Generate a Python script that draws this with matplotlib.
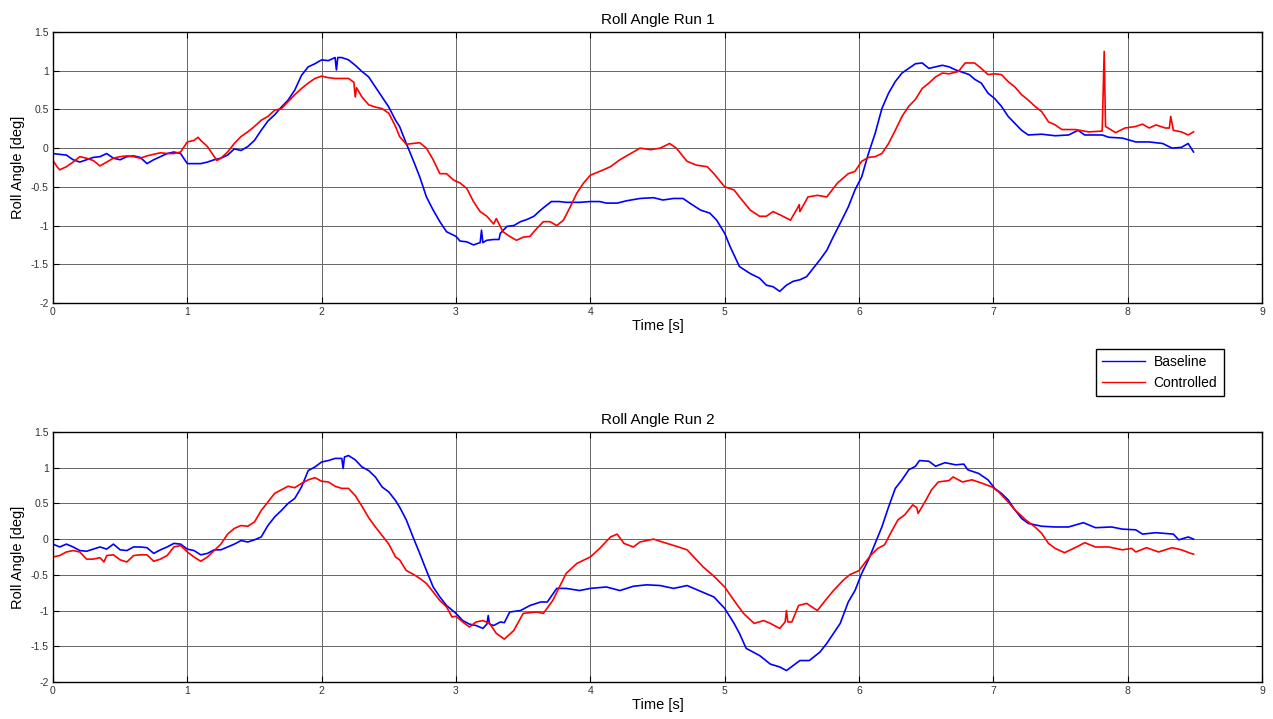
import matplotlib
matplotlib.use('Agg')
import matplotlib.pyplot as plt

plt.rcParams['font.family'] = ['Liberation Sans', 'DejaVu Sans']

################################ data ################################

titles = ['Roll Angle Run 1', 'Roll Angle Run 2']
series_names = ['Baseline', 'Controlled']
x_ticks = [0, 1, 2, 3, 4, 5, 6, 7, 8, 9]
y_ticks = [-2, -1.5, -1, -0.5, 0, 0.5, 1, 1.5]

# run 1, baseline
base1_t = [0.00, 0.05, 0.10, 0.15, 0.20, 0.25, 0.30, 0.35, 0.40, 0.45,
           0.50, 0.55, 0.60, 0.65, 0.70, 0.75, 0.80, 0.85, 0.90, 0.95,
           1.00, 1.05, 1.10, 1.15, 1.20, 1.25, 1.30, 1.35, 1.40, 1.45,
           1.50, 1.55, 1.60, 1.65, 1.70, 1.75, 1.80, 1.85, 1.90, 1.95,
           2.00, 2.05, 2.10, 2.11, 2.12, 2.15, 2.20, 2.25, 2.30, 2.35,
           2.40, 2.45, 2.50, 2.55, 2.58, 2.63, 2.68, 2.73, 2.78, 2.83,
           2.88, 2.93, 3.00, 3.03, 3.08, 3.13, 3.18, 3.19, 3.20, 3.23,
           3.28, 3.32, 3.33, 3.38, 3.43, 3.48, 3.53, 3.58, 3.63, 3.68,
           3.71, 3.77, 3.82, 3.87, 3.92, 4.00, 4.07, 4.12, 4.20, 4.27,
           4.37, 4.47, 4.54, 4.62, 4.69, 4.74, 4.82, 4.89, 4.94, 5.00,
           5.04, 5.11, 5.19, 5.26, 5.31, 5.36, 5.41, 5.46, 5.51, 5.56,
           5.61, 5.66, 5.71, 5.76, 5.81, 5.86, 5.92, 5.97, 6.02, 6.07,
           6.12, 6.17, 6.22, 6.27, 6.32, 6.37, 6.42, 6.47, 6.52, 6.57,
           6.62, 6.67, 6.72, 6.77, 6.82, 6.86, 6.91, 6.96, 7.01, 7.06,
           7.11, 7.16, 7.21, 7.26, 7.36, 7.46, 7.56, 7.63, 7.68, 7.81,
           7.86, 7.96, 8.06, 8.16, 8.26, 8.33, 8.40, 8.45, 8.49]
base1_v = [-0.07, -0.08, -0.09, -0.15, -0.18, -0.15, -0.12, -0.11, -0.07, -0.13,
           -0.15, -0.11, -0.10, -0.12, -0.20, -0.15, -0.11, -0.07, -0.05, -0.07,
           -0.20, -0.20, -0.20, -0.18, -0.15, -0.13, -0.09, -0.01, -0.03, 0.02,
           0.10, 0.23, 0.35, 0.43, 0.53, 0.62, 0.75, 0.94, 1.05, 1.09,
           1.14, 1.13, 1.17, 1.01, 1.17, 1.17, 1.14, 1.07, 0.99, 0.92,
           0.79, 0.66, 0.53, 0.36, 0.28, 0.06, -0.15, -0.37, -0.63, -0.80,
           -0.95, -1.08, -1.14, -1.20, -1.21, -1.25, -1.22, -1.06, -1.22, -1.19,
           -1.18, -1.18, -1.10, -1.01, -1.00, -0.95, -0.92, -0.88, -0.80, -0.73,
           -0.69, -0.69, -0.70, -0.70, -0.70, -0.69, -0.69, -0.71, -0.71, -0.68,
           -0.65, -0.64, -0.67, -0.65, -0.65, -0.71, -0.80, -0.84, -0.93, -1.10,
           -1.27, -1.53, -1.62, -1.68, -1.77, -1.79, -1.85, -1.77, -1.72, -1.70,
           -1.66, -1.55, -1.44, -1.32, -1.14, -0.97, -0.76, -0.54, -0.37, -0.07,
           0.19, 0.51, 0.71, 0.86, 0.97, 1.03, 1.09, 1.10, 1.03, 1.05,
           1.07, 1.05, 1.01, 0.98, 0.95, 0.89, 0.84, 0.71, 0.64, 0.54,
           0.41, 0.32, 0.23, 0.17, 0.18, 0.16, 0.17, 0.23, 0.17, 0.17,
           0.14, 0.13, 0.08, 0.08, 0.06, 0.00, 0.01, 0.06, -0.05]

# run 1, controlled
ctrl1_t = [0.00, 0.03, 0.05, 0.10, 0.15, 0.20, 0.25, 0.30, 0.35, 0.40,
           0.45, 0.50, 0.55, 0.60, 0.65, 0.70, 0.75, 0.80, 0.85, 0.90,
           0.95, 1.00, 1.05, 1.08, 1.10, 1.15, 1.20, 1.22, 1.25, 1.30,
           1.35, 1.40, 1.45, 1.50, 1.55, 1.60, 1.65, 1.70, 1.75, 1.80,
           1.85, 1.90, 1.95, 2.00, 2.05, 2.10, 2.15, 2.20, 2.24, 2.25,
           2.26, 2.30, 2.35, 2.40, 2.45, 2.50, 2.55, 2.58, 2.63, 2.68,
           2.73, 2.78, 2.83, 2.88, 2.93, 2.98, 3.03, 3.08, 3.13, 3.18,
           3.23, 3.28, 3.30, 3.35, 3.40, 3.45, 3.50, 3.55, 3.60, 3.65,
           3.70, 3.75, 3.80, 3.85, 3.90, 3.95, 4.00, 4.07, 4.15, 4.22,
           4.30, 4.37, 4.45, 4.52, 4.59, 4.64, 4.72, 4.79, 4.87, 4.92,
           5.00, 5.07, 5.11, 5.19, 5.26, 5.31, 5.36, 5.41, 5.49, 5.54,
           5.555, 5.56, 5.62, 5.69, 5.76, 5.84, 5.92, 5.97, 6.02, 6.07,
           6.12, 6.17, 6.22, 6.27, 6.32, 6.37, 6.42, 6.47, 6.52, 6.57,
           6.62, 6.67, 6.74, 6.79, 6.86, 6.91, 6.96, 7.01, 7.06, 7.11,
           7.16, 7.21, 7.26, 7.31, 7.36, 7.41, 7.46, 7.51, 7.61, 7.71,
           7.81, 7.825, 7.835, 7.91, 7.98, 8.06, 8.11, 8.16, 8.21, 8.28,
           8.31, 8.32, 8.34, 8.40, 8.45, 8.49]
ctrl1_v = [-0.16, -0.24, -0.28, -0.24, -0.18, -0.11, -0.13, -0.16, -0.23, -0.18,
           -0.13, -0.11, -0.10, -0.11, -0.13, -0.10, -0.08, -0.06, -0.07, -0.07,
           -0.05, 0.08, 0.10, 0.14, 0.10, 0.02, -0.11, -0.16, -0.13, -0.05,
           0.06, 0.15, 0.21, 0.28, 0.36, 0.41, 0.49, 0.51, 0.60, 0.69,
           0.77, 0.84, 0.90, 0.93, 0.91, 0.90, 0.90, 0.90, 0.85, 0.66,
           0.78, 0.66, 0.56, 0.53, 0.51, 0.45, 0.28, 0.15, 0.05, 0.06,
           0.07, 0.00, -0.15, -0.33, -0.33, -0.41, -0.45, -0.52, -0.69, -0.82,
           -0.88, -0.98, -0.91, -1.08, -1.14, -1.19, -1.15, -1.14, -1.04, -0.95,
           -0.95, -1.00, -0.93, -0.76, -0.58, -0.45, -0.35, -0.30, -0.24, -0.15,
           -0.07, 0.00, -0.02, 0.00, 0.06, 0.00, -0.17, -0.22, -0.24, -0.33,
           -0.50, -0.54, -0.63, -0.80, -0.88, -0.88, -0.82, -0.86, -0.93, -0.78,
           -0.73, -0.82, -0.63, -0.61, -0.63, -0.45, -0.33, -0.30, -0.17, -0.12,
           -0.11, -0.07, 0.06, 0.23, 0.41, 0.54, 0.63, 0.77, 0.84, 0.92,
           0.97, 0.96, 0.99, 1.10, 1.10, 1.03, 0.95, 0.96, 0.95, 0.86,
           0.79, 0.69, 0.62, 0.54, 0.47, 0.34, 0.30, 0.24, 0.24, 0.21,
           0.22, 1.25, 0.28, 0.20, 0.26, 0.28, 0.31, 0.26, 0.30, 0.26,
           0.26, 0.41, 0.23, 0.21, 0.17, 0.21]

# run 2, baseline
base2_t = [0.00, 0.05, 0.10, 0.15, 0.20, 0.25, 0.30, 0.35, 0.40, 0.45,
           0.50, 0.55, 0.60, 0.65, 0.70, 0.75, 0.80, 0.85, 0.90, 0.95,
           1.00, 1.05, 1.10, 1.15, 1.20, 1.25, 1.30, 1.35, 1.40, 1.45,
           1.50, 1.55, 1.60, 1.65, 1.70, 1.75, 1.80, 1.85, 1.90, 1.95,
           2.00, 2.05, 2.10, 2.15, 2.16, 2.17, 2.20, 2.25, 2.30, 2.35,
           2.40, 2.45, 2.50, 2.55, 2.58, 2.63, 2.68, 2.73, 2.78, 2.83,
           2.88, 2.93, 3.00, 3.05, 3.10, 3.15, 3.20, 3.23, 3.24, 3.25,
           3.28, 3.33, 3.36, 3.40, 3.48, 3.55, 3.63, 3.68, 3.75, 3.82,
           3.92, 4.00, 4.12, 4.22, 4.32, 4.42, 4.52, 4.62, 4.72, 4.82,
           4.92, 5.00, 5.07, 5.11, 5.16, 5.26, 5.34, 5.41, 5.46, 5.51,
           5.56, 5.63, 5.71, 5.76, 5.81, 5.86, 5.92, 5.97, 6.02, 6.07,
           6.12, 6.17, 6.22, 6.27, 6.32, 6.37, 6.42, 6.45, 6.52, 6.57,
           6.64, 6.72, 6.78, 6.81, 6.89, 6.96, 7.01, 7.06, 7.11, 7.16,
           7.21, 7.26, 7.36, 7.46, 7.56, 7.67, 7.76, 7.88, 7.96, 8.06,
           8.11, 8.21, 8.28, 8.34, 8.38, 8.45, 8.49]
base2_v = [-0.07, -0.11, -0.07, -0.11, -0.16, -0.17, -0.14, -0.11, -0.14, -0.07,
           -0.15, -0.16, -0.11, -0.11, -0.12, -0.20, -0.15, -0.11, -0.06, -0.07,
           -0.14, -0.16, -0.22, -0.20, -0.15, -0.15, -0.11, -0.07, -0.02, -0.04,
           -0.01, 0.03, 0.19, 0.31, 0.40, 0.50, 0.57, 0.73, 0.96, 1.01,
           1.08, 1.10, 1.13, 1.13, 0.99, 1.15, 1.17, 1.11, 1.01, 0.96,
           0.87, 0.73, 0.66, 0.54, 0.45, 0.27, 0.03, -0.20, -0.44, -0.67,
           -0.81, -0.93, -1.04, -1.14, -1.19, -1.21, -1.25, -1.19, -1.07, -1.19,
           -1.21, -1.16, -1.17, -1.02, -1.00, -0.93, -0.88, -0.88, -0.69, -0.69,
           -0.72, -0.69, -0.67, -0.72, -0.66, -0.64, -0.65, -0.69, -0.65, -0.73,
           -0.81, -0.97, -1.18, -1.32, -1.53, -1.63, -1.75, -1.79, -1.84, -1.77,
           -1.70, -1.70, -1.58, -1.46, -1.32, -1.18, -0.88, -0.72, -0.48, -0.29,
           -0.06, 0.17, 0.45, 0.71, 0.83, 0.97, 1.02, 1.10, 1.09, 1.02,
           1.07, 1.04, 1.05, 0.97, 0.92, 0.83, 0.71, 0.64, 0.55, 0.41,
           0.29, 0.22, 0.18, 0.17, 0.17, 0.23, 0.16, 0.17, 0.14, 0.13,
           0.07, 0.09, 0.08, 0.07, -0.01, 0.03, 0.00]

# run 2, controlled
ctrl2_t = [0.00, 0.05, 0.10, 0.15, 0.20, 0.25, 0.30, 0.35, 0.38, 0.40,
           0.45, 0.50, 0.55, 0.60, 0.65, 0.70, 0.75, 0.80, 0.85, 0.90,
           0.95, 1.00, 1.05, 1.10, 1.15, 1.20, 1.25, 1.30, 1.35, 1.40,
           1.45, 1.50, 1.55, 1.60, 1.65, 1.70, 1.75, 1.80, 1.85, 1.90,
           1.95, 2.00, 2.05, 2.10, 2.15, 2.20, 2.25, 2.30, 2.35, 2.40,
           2.45, 2.50, 2.55, 2.58, 2.63, 2.68, 2.73, 2.78, 2.83, 2.88,
           2.93, 2.97, 3.00, 3.05, 3.10, 3.15, 3.20, 3.25, 3.30, 3.36,
           3.43, 3.50, 3.55, 3.60, 3.65, 3.72, 3.77, 3.82, 3.90, 4.00,
           4.07, 4.15, 4.20, 4.25, 4.32, 4.37, 4.47, 4.57, 4.64, 4.72,
           4.79, 4.84, 4.92, 5.00, 5.07, 5.14, 5.22, 5.29, 5.34, 5.41,
           5.45, 5.46, 5.47, 5.50, 5.55, 5.61, 5.69, 5.74, 5.81, 5.88,
           5.93, 6.00, 6.04, 6.09, 6.14, 6.19, 6.24, 6.29, 6.34, 6.40,
           6.43, 6.44, 6.49, 6.54, 6.59, 6.67, 6.70, 6.77, 6.84, 6.92,
           6.99, 7.04, 7.11, 7.16, 7.24, 7.31, 7.36, 7.41, 7.46, 7.53,
           7.63, 7.68, 7.76, 7.86, 7.96, 8.03, 8.06, 8.14, 8.23, 8.33,
           8.40, 8.47, 8.49]
ctrl2_v = [-0.25, -0.23, -0.18, -0.16, -0.18, -0.28, -0.28, -0.26, -0.32, -0.23,
           -0.22, -0.29, -0.32, -0.23, -0.22, -0.22, -0.31, -0.28, -0.23, -0.11,
           -0.09, -0.18, -0.25, -0.31, -0.25, -0.16, -0.07, 0.07, 0.15, 0.19,
           0.18, 0.24, 0.40, 0.52, 0.64, 0.69, 0.74, 0.72, 0.78, 0.83,
           0.86, 0.81, 0.80, 0.74, 0.71, 0.71, 0.61, 0.46, 0.30, 0.17,
           0.05, -0.07, -0.25, -0.29, -0.44, -0.49, -0.55, -0.62, -0.74, -0.86,
           -0.95, -1.09, -1.08, -1.16, -1.23, -1.16, -1.14, -1.18, -1.32, -1.40,
           -1.28, -1.04, -1.03, -1.02, -1.04, -0.86, -0.67, -0.48, -0.34, -0.25,
           -0.13, 0.03, 0.07, -0.06, -0.11, -0.04, 0.00, -0.06, -0.10, -0.15,
           -0.29, -0.39, -0.52, -0.67, -0.86, -1.04, -1.18, -1.14, -1.18, -1.25,
           -1.16, -1.00, -1.16, -1.16, -0.93, -0.90, -1.00, -0.88, -0.72, -0.58,
           -0.50, -0.44, -0.34, -0.22, -0.13, -0.08, 0.10, 0.27, 0.34, 0.48,
           0.44, 0.36, 0.52, 0.69, 0.80, 0.82, 0.87, 0.80, 0.83, 0.78,
           0.73, 0.66, 0.52, 0.41, 0.27, 0.17, 0.08, -0.06, -0.13, -0.19,
           -0.10, -0.05, -0.11, -0.11, -0.15, -0.13, -0.18, -0.12, -0.18, -0.12,
           -0.15, -0.20, -0.21]

################################ plotting ################################

def style_axes(ax, title):
	ax.set_xlim(0, 9)
	ax.set_ylim(-2, 1.5)
	ax.set_xticks(x_ticks)
	ax.set_yticks(y_ticks)
	ax.set_yticklabels(['-2', '-1.5', '-1', '-0.5', '0', '0.5', '1', '1.5'])
	ax.grid(True, color='0.4', linewidth=0.7)
	ax.set_axisbelow(True)
	ax.tick_params(direction='in', top=True, right=True, labelsize=7.5,
		labelcolor='0.2', length=4, pad=3)
	for s in ax.spines.values():
		s.set_linewidth(1.0)
		s.set_color('black')
	ax.set_title(title, fontsize=11, pad=6)
	ax.set_xlabel('Time [s]', fontsize=10.5, labelpad=1)
	ax.set_ylabel('Roll Angle [deg]', fontsize=10.5, labelpad=4)


fig = plt.figure(figsize=(12.73, 7.19), dpi=100)
ax1 = fig.add_axes([0.0416, 0.5786, 0.9498, 0.3769])
ax2 = fig.add_axes([0.0416, 0.0515, 0.9498, 0.3477])

ax1.plot(base1_t, base1_v, color='#0000ff', linewidth=1.2, label=series_names[0])
ax1.plot(ctrl1_t, ctrl1_v, color='#ff0000', linewidth=1.2, label=series_names[1])
style_axes(ax1, titles[0])

ax2.plot(base2_t, base2_v, color='#0000ff', linewidth=1.2)
ax2.plot(ctrl2_t, ctrl2_v, color='#ff0000', linewidth=1.2)
style_axes(ax2, titles[1])

# legend sits between the two panels, right side
leg = fig.legend(loc='upper left', bbox_to_anchor=(0.861, 0.5146), fontsize=10,
	fancybox=False, edgecolor='black', framealpha=1, handlelength=3.1,
	borderpad=0.45, labelspacing=0.45, handletextpad=0.6, borderaxespad=0)
leg.get_frame().set_linewidth(1.0)
for line in leg.get_lines():
	line.set_linewidth(1.0)

fig.savefig('out.png', dpi=100)
